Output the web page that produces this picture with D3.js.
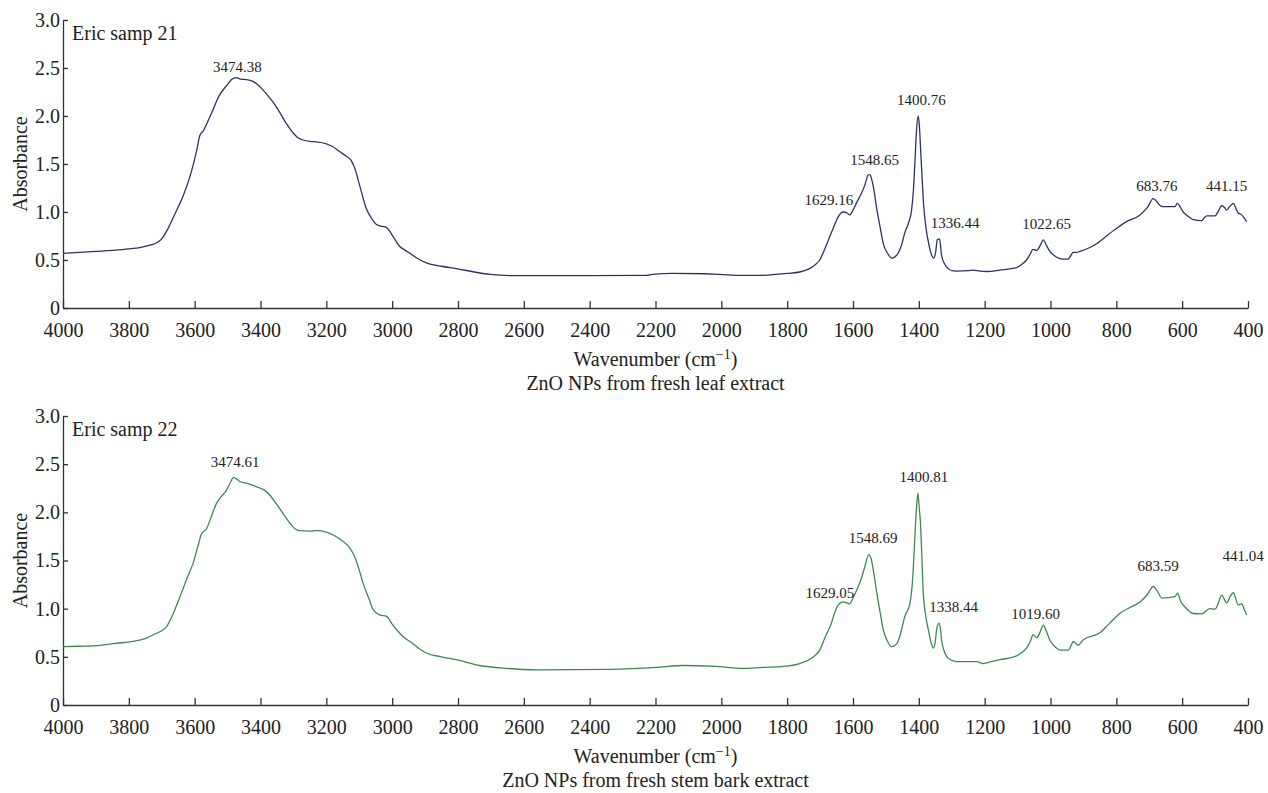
<!DOCTYPE html>
<html>
<head>
<meta charset="utf-8">
<script src="https://cdn.jsdelivr.net/npm/d3@7"></script>
<style>
  body { margin: 0; background: #fff; }
  text { font-family: "Liberation Serif", "Times New Roman", serif; fill: #222; }
</style>
</head>
<body>
<div id="chart"></div>
<script>
// wavenumber (cm-1), absorbance
const sample21 = [
  [4000,0.57],[3950,0.58],[3900,0.59],[3850,0.60],[3800,0.615],[3760,0.635],[3730,0.66],[3715,0.68],
  [3700,0.72],[3682,0.82],[3660,0.98],[3636,1.16],[3610,1.42],[3594,1.64],[3584,1.80],[3575,1.84],
  [3554,1.99],[3524,2.22],[3500,2.33],[3488,2.38],[3474,2.40],[3460,2.385],[3442,2.38],[3423,2.36],
  [3410,2.33],[3392,2.27],[3370,2.18],[3351,2.09],[3321,1.92],[3300,1.82],[3285,1.77],[3271,1.75],
  [3250,1.735],[3230,1.73],[3200,1.71],[3180,1.68],[3160,1.63],[3139,1.58],[3125,1.54],[3112,1.44],
  [3099,1.28],[3079,1.04],[3060,0.92],[3048,0.87],[3030,0.85],[3018,0.84],[3000,0.76],[2977,0.64],
  [2960,0.60],[2946,0.57],[2920,0.51],[2896,0.47],[2850,0.435],[2805,0.41],[2750,0.375],[2703,0.35],
  [2634,0.337],[2400,0.337],[2227,0.34],[2210,0.35],[2147,0.36],[2050,0.357],[2005,0.35],[1935,0.34],
  [1880,0.34],[1852,0.345],[1800,0.36],[1762,0.375],[1732,0.41],[1715,0.45],[1701,0.50],[1685,0.62],
  [1671,0.74],[1658,0.85],[1645,0.95],[1630,1.00],[1618,0.99],[1610,0.97],[1600,1.02],[1590,1.09],
  [1575,1.19],[1564,1.28],[1554,1.385],[1549,1.39],[1544,1.35],[1536,1.22],[1529,1.055],[1518,0.85],
  [1508,0.67],[1495,0.57],[1483,0.52],[1472,0.535],[1463,0.57],[1452,0.66],[1443,0.78],[1432,0.88],
  [1422,1.02],[1416,1.25],[1412,1.51],[1407,1.85],[1402,2.00],[1398,1.88],[1395,1.68],[1390,1.35],
  [1385,1.055],[1378,0.83],[1370,0.67],[1362,0.56],[1355,0.52],[1349,0.58],[1344,0.71],[1337,0.72],
  [1331,0.55],[1322,0.46],[1311,0.41],[1300,0.39],[1285,0.385],[1250,0.39],[1235,0.395],[1215,0.385],
  [1196,0.38],[1154,0.395],[1103,0.42],[1085,0.46],[1073,0.50],[1062,0.56],[1053,0.61],[1042,0.60],
  [1030,0.66],[1022,0.71],[1012,0.65],[1002,0.59],[990,0.55],[976,0.52],[960,0.51],[946,0.51],
  [936,0.56],[931,0.58],[920,0.58],[911,0.59],[880,0.63],[860,0.67],[830,0.75],[799,0.83],
  [769,0.90],[728,0.97],[705,1.05],[688,1.14],[680,1.12],[668,1.07],[658,1.055],[622,1.055],
  [615,1.09],[597,1.00],[580,0.95],[566,0.92],[541,0.91],[526,0.96],[500,0.96],[490,1.01],
  [480,1.065],[472,1.05],[465,1.02],[455,1.06],[444,1.09],[437,1.04],[430,0.99],[419,0.97],
  [410,0.93],[404,0.90]
];

const sample22 = [
  [4000,0.605],[3950,0.61],[3888,0.62],[3840,0.64],[3788,0.66],[3750,0.69],[3716,0.745],[3700,0.77],
  [3686,0.81],[3665,0.95],[3645,1.12],[3625,1.30],[3605,1.47],[3590,1.65],[3579,1.78],[3564,1.83],
  [3550,1.95],[3534,2.09],[3520,2.16],[3503,2.23],[3490,2.32],[3483,2.36],[3474,2.35],[3463,2.32],
  [3440,2.30],[3423,2.28],[3400,2.25],[3382,2.215],[3352,2.09],[3330,1.98],[3311,1.89],[3295,1.83],
  [3281,1.81],[3250,1.805],[3230,1.81],[3200,1.795],[3179,1.765],[3150,1.70],[3129,1.63],[3114,1.54],
  [3100,1.40],[3088,1.26],[3070,1.10],[3058,0.99],[3038,0.935],[3017,0.92],[3000,0.84],[2977,0.745],
  [2960,0.69],[2946,0.66],[2920,0.59],[2896,0.54],[2850,0.50],[2805,0.47],[2734,0.41],[2653,0.38],
  [2562,0.365],[2339,0.37],[2197,0.39],[2116,0.41],[2015,0.40],[1934,0.38],[1873,0.39],[1812,0.40],
  [1762,0.43],[1726,0.485],[1701,0.57],[1685,0.70],[1670,0.81],[1645,1.04],[1630,1.07],[1618,1.06],
  [1610,1.05],[1600,1.11],[1589,1.19],[1575,1.31],[1564,1.435],[1552,1.56],[1544,1.505],[1536,1.35],
  [1529,1.19],[1518,0.97],[1508,0.78],[1495,0.66],[1483,0.605],[1472,0.62],[1463,0.66],[1452,0.79],
  [1443,0.915],[1427,1.055],[1418,1.35],[1414,1.61],[1408,2.00],[1403,2.20],[1399,2.05],[1395,1.89],
  [1391,1.55],[1387,1.19],[1380,0.95],[1371,0.78],[1362,0.64],[1356,0.59],[1350,0.66],[1346,0.78],
  [1339,0.85],[1334,0.78],[1331,0.675],[1322,0.55],[1311,0.485],[1285,0.45],[1225,0.45],[1204,0.43],
  [1180,0.45],[1154,0.47],[1103,0.51],[1085,0.55],[1073,0.59],[1060,0.67],[1053,0.73],[1042,0.70],
  [1030,0.77],[1022,0.83],[1012,0.76],[1002,0.675],[985,0.60],[971,0.57],[946,0.57],[936,0.63],
  [931,0.66],[916,0.62],[901,0.675],[850,0.75],[820,0.85],[790,0.95],[760,1.01],[728,1.07],
  [705,1.15],[688,1.23],[675,1.18],[662,1.11],[622,1.125],[614,1.16],[605,1.08],[592,1.02],
  [566,0.95],[541,0.945],[516,1.00],[500,0.995],[490,1.06],[480,1.14],[465,1.06],[452,1.14],
  [444,1.165],[437,1.10],[430,1.04],[419,1.05],[410,0.98],[404,0.935]
];

// peak labels: text, wavenumber and absorbance where the label sits
const peaks21 = [
  ["3474.38",3470,2.46],["1629.16",1673,1.07],["1548.65",1534,1.49],["1400.76",1392,2.11],
  ["1336.44",1290,0.83],["1022.65",1012,0.82],["683.76",677,1.22],["441.15",465,1.22]
];
const peaks22 = [
  ["3474.61",3477,2.475],["1629.05",1670,1.11],["1548.69",1539,1.685],["1400.81",1385,2.31],
  ["1338.44",1294,0.97],["1019.60",1045,0.89],["683.59",673,1.39],["441.04",415,1.49]
];

const xTicks = d3.range(4000, 399, -200);
const yTicks = [0, 0.5, 1.0, 1.5, 2.0, 2.5, 3.0];

const width = 1268;
const height = 793;

const svg = d3.select('#chart')
  .append('svg')
  .attr('width', width)
  .attr('height', height);

const x = d3.scaleLinear().domain([4000, 400]).range([63, 1248]);

function drawPanel(spectrum, peaks, opts) {
  const y = d3.scaleLinear().domain([0, 3]).range([opts.bottom, opts.top]);
  const g = svg.append('g');

  const axisX = d3.axisBottom(x)
    .tickValues(xTicks)
    .tickSizeInner(-7)
    .tickSizeOuter(0)
    .tickPadding(15)
    .tickFormat(d3.format('d'));
  const gx = g.append('g')
    .attr('transform', `translate(0, ${opts.bottom})`)
    .call(axisX);

  const axisY = d3.axisLeft(y)
    .tickValues(yTicks)
    .tickSizeInner(-5)
    .tickSizeOuter(0)
    .tickPadding(3)
    .tickFormat(d => d === 0 ? '0' : d3.format('.1f')(d));
  const gy = g.append('g')
    .attr('transform', `translate(63, 0)`)
    .call(axisY);

  [gx, gy].forEach(a => {
    a.selectAll('path, line').attr('stroke', '#333').attr('stroke-width', 1.3);
    a.selectAll('text').attr('font-size', 20).attr('fill', '#222')
      .attr('font-family', '"Liberation Serif", "Times New Roman", serif');
  });

  const line = d3.line()
    .x(d => x(d[0]))
    .y(d => y(d[1]))
    .curve(d3.curveMonotoneX);

  g.append('path')
    .datum(spectrum)
    .attr('fill', 'none')
    .attr('stroke', opts.color)
    .attr('stroke-width', 1.3)
    .attr('d', line);

  g.selectAll('.peak')
    .data(peaks)
    .enter()
    .append('text')
    .attr('class', 'peak')
    .attr('x', d => x(d[1]))
    .attr('y', d => y(d[2]))
    .attr('text-anchor', 'middle')
    .attr('font-size', 15)
    .text(d => d[0]);

  g.append('text')
    .attr('x', 72)
    .attr('y', opts.top + 20)
    .attr('font-size', 20)
    .text(opts.name);

  g.append('text')
    .attr('transform', `translate(27, ${(opts.top + opts.bottom) / 2}) rotate(-90)`)
    .attr('text-anchor', 'middle')
    .attr('font-size', 20)
    .text('Absorbance');

  const title = g.append('text')
    .attr('x', 655.5)
    .attr('y', opts.bottom + 58)
    .attr('text-anchor', 'middle')
    .attr('font-size', 20);
  title.append('tspan').text('Wavenumber (cm');
  title.append('tspan').attr('baseline-shift', 'super').attr('font-size', 14).text('\u22121');
  title.append('tspan').text(')');

  g.append('text')
    .attr('x', 655.5)
    .attr('y', opts.bottom + 82)
    .attr('text-anchor', 'middle')
    .attr('font-size', 20)
    .text(opts.caption);
}

drawPanel(sample21, peaks21, {
  top: 20, bottom: 308, color: '#2b3468',
  name: 'Eric samp 21', caption: 'ZnO NPs from fresh leaf extract'
});

drawPanel(sample22, peaks22, {
  top: 416, bottom: 705, color: '#3d8a4e',
  name: 'Eric samp 22', caption: 'ZnO NPs from fresh stem bark extract'
});
</script>
</body>
</html>
